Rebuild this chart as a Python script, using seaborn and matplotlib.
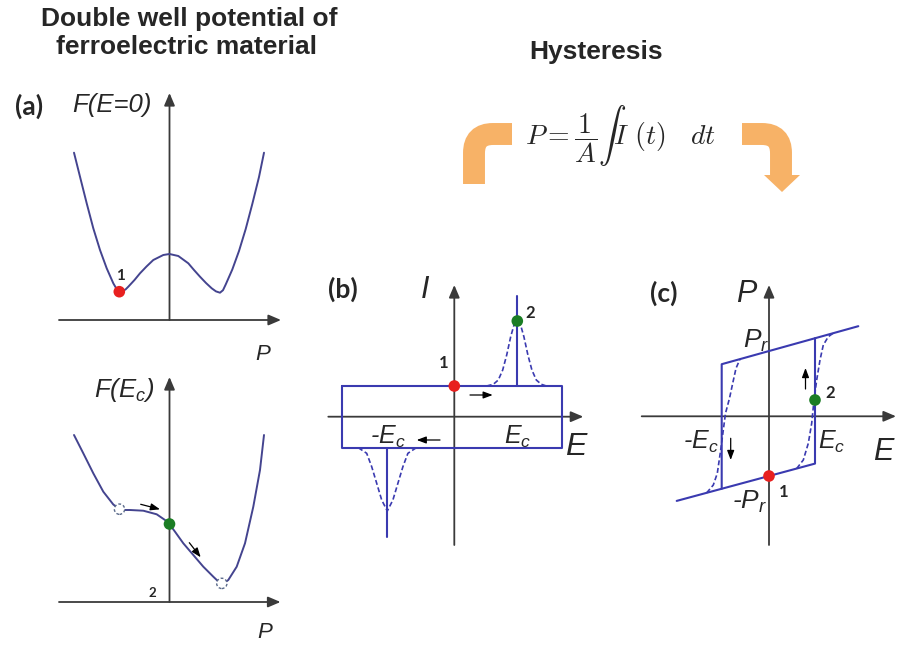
import matplotlib
matplotlib.use("Agg")
import matplotlib.pyplot as plt
from matplotlib.path import Path
from matplotlib.patches import PathPatch, Polygon
import seaborn as sns

# ---------------------------------------------------------------------------
# Data (each panel uses its own axis origin; units are pixels from that origin)
# ---------------------------------------------------------------------------
# (a) Landau free energy at zero field: double well
fe0_p = [-95.5, -89.5, -82.8, -76.2, -69.5, -62.8, -56.2, -53.0, -50.2, -47.5,
         -44.0, -41.2, -35.0, -29.5, -23.0, -16.2, -6.2, 0.0, 8.8, 18.8, 24.5,
         30.5, 36.5, 42.2, 46.5, 50.5, 53.5, 56.2, 62.8, 69.5, 76.2, 82.8,
         89.5, 94.5]
fe0_f = [167.3, 143.3, 116.7, 91.7, 70.0, 51.7, 36.7, 31.2, 28.3, 28.8,
         30.5, 33.3, 40.0, 46.7, 53.5, 60.0, 65.0, 66.0, 64.0, 56.7, 50.0,
         43.3, 37.0, 31.7, 28.6, 27.3, 29.8, 35.5, 50.5, 69.0, 91.0, 116.0,
         143.0, 167.3]
state1_a = (-50.2, 28.3)

# (a) free energy at the coercive field: tilted well
fec_p = [-95.5, -86.2, -76.2, -66.2, -56.2, -50.2, -44.5, -39.5, -26.2, -12.8,
         -4.5, -0.2, 5.5, 13.8, 23.8, 33.8, 43.8, 48.5, 52.2, 55.5, 58.8, 67.2,
         75.5, 83.8, 90.5, 94.5]
fec_f = [167.0, 148.7, 128.7, 110.3, 97.5, 93.0, 92.0, 92.0, 91.3, 87.7,
         82.0, 78.0, 70.3, 58.7, 47.0, 35.3, 25.3, 20.8, 18.7, 19.6, 22.0,
         35.3, 58.7, 95.3, 132.0, 167.0]
state2_a = (0.0, 78.0)
extrema_p = [-50.0, 52.3]
extrema_f = [92.8, 18.6]

# (b) switching current versus field
loop_i_e = [-112.6, 108.0, 108.0, -112.6, -112.6]
loop_i_i = [30.7, 30.7, -31.0, -31.0, 30.7]
peak_e = [32.4, 39.0, 44.0, 48.4, 52.4, 56.4, 59.7, 63.0, 66.3, 69.6, 73.6,
          77.6, 82.0, 87.0, 92.0]
peak_i = [30.7, 32.4, 36.7, 46.7, 61.7, 80.0, 91.7, 96.0, 91.7, 80.0, 61.7,
          46.7, 36.7, 32.4, 30.7]
trough_e = [-96.0, -87.6, -82.6, -77.6, -72.6, -67.0, -61.4, -56.4, -51.4,
            -46.4, -38.0]
trough_i = [-31.0, -36.6, -50.0, -66.6, -83.3, -94.3, -83.3, -66.6, -50.0,
            -36.6, -31.0]
spike_up_e, spike_up_i = [63.0, 63.0], [30.7, 120.7]
spike_dn_e, spike_dn_i = [-67.0, -67.0], [-31.0, -120.0]
state1_b = (0.0, 30.7)
state2_b = (63.0, 95.7)

# (c) polarization hysteresis
top_e = [89.3, -47.3, -47.3]
top_p = [90.1, 52.1, -72.5]
bot_e = [-92.3, 46.0, 46.0]
bot_p = [-84.6, -47.3, 78.1]
up_dash_e = [27.7, 34.3, 39.3, 42.7, 45.0, 47.7, 51.0, 54.3, 59.3, 64.3]
up_dash_p = [-52.2, -43.7, -27.0, -7.0, 16.3, 36.3, 56.3, 71.3, 79.6, 83.2]
dn_dash_e = [-62.3, -55.7, -51.7, -48.3, -45.7, -43.5, -39.5, -36.3, -33.0, -29.0]
dn_dash_p = [-76.5, -68.7, -57.0, -33.7, -13.7, 3.0, 18.0, 33.0, 48.0, 57.2]
state1_c = (0.0, -59.7)
state2_c = (46.0, 16.3)

# ---------------------------------------------------------------------------
sns.set_theme(style="white")
plt.rcParams["font.family"] = ["Liberation Sans", "DejaVu Sans"]
plt.rcParams["mathtext.fontset"] = "custom"
plt.rcParams["mathtext.it"] = "Liberation Sans:italic"
plt.rcParams["mathtext.rm"] = "Liberation Sans"

W, H = 897, 652
fig = plt.figure(figsize=(W / 100, H / 100), dpi=100)
fig.patch.set_facecolor("white")

AX_COL = "#3a3a3a"
CURVE_A = "#44448f"
BLUE = "#3a3ab0"
RED = "#e8201f"
GREEN = "#1b7d24"
ORANGE = "#f7b267"
BOLD = ["Lato", "DejaVu Sans"]

# full-figure overlay in pixel units
ov = fig.add_axes([0, 0, 1, 1])
ov.set_xlim(0, W)
ov.set_ylim(H, 0)
ov.axis("off")


def panel(ox, oy, left, top, right, bottom):
    """Axes covering a pixel box, with 1 data unit = 1 px, origin at (ox, oy)."""
    ax = fig.add_axes([left / W, 1 - bottom / H, (right - left) / W, (bottom - top) / H])
    ax.set_xlim(left - ox, right - ox)
    ax.set_ylim(oy - bottom, oy - top)
    ax.axis("off")
    return ax


def axis_arrow(ax, x0, y0, x1, y1):
    ax.annotate("", xy=(x1, y1), xytext=(x0, y0),
                arrowprops=dict(arrowstyle="-|>,head_length=0.75,head_width=0.32",
                                color=AX_COL, lw=1.3, shrinkA=0, shrinkB=0,
                                mutation_scale=10))


def small_arrow(ax, x0, y0, x1, y1):
    ax.annotate("", xy=(x1, y1), xytext=(x0, y0),
                arrowprops=dict(arrowstyle="-|>,head_length=0.8,head_width=0.3",
                                color="black", lw=0.9, shrinkA=0, shrinkB=0,
                                mutation_scale=7))


def curve(ax, x, y, color, dashed=False, lw=1.4):
    sns.lineplot(x=x, y=y, ax=ax, color=color, lw=lw, sort=False, estimator=None,
                 linestyle=(0, (3, 1.6)) if dashed else "-", zorder=3)


def dot(ax, pt, color):
    sns.scatterplot(x=[pt[0]], y=[pt[1]], ax=ax, color=color, s=70,
                    edgecolor="none", zorder=6)


# ---- titles ----------------------------------------------------------------
ov.text(189, 19, "Double well potential of", ha="center", va="center",
        fontsize=19, fontweight="bold")
ov.text(186, 47, "ferroelectric material", ha="center", va="center",
        fontsize=19, fontweight="bold")
ov.text(596, 52, "Hysteresis", ha="center", va="center",
        fontsize=19, fontweight="bold")

# ---- integral relation with curved arrows ----------------------------------
ov.text(620, 136, r"$P = \dfrac{1}{A}\int I\ (t)\quad dt$", ha="center",
        va="center", fontsize=20, math_fontfamily="cm")
band = 15.8
left_band = Path([(474, 184), (474, 153), (474, 134), (493, 134), (512, 134)],
                 [Path.MOVETO, Path.LINETO, Path.CURVE3, Path.CURVE3, Path.LINETO])
right_band = Path([(742, 134), (762, 134), (781, 134), (781, 153), (781, 176)],
                  [Path.MOVETO, Path.LINETO, Path.CURVE3, Path.CURVE3, Path.LINETO])
for pth in (left_band, right_band):
    ov.add_patch(PathPatch(pth, fill=False, lw=band, edgecolor=ORANGE,
                           capstyle="butt", joinstyle="miter"))
ov.add_patch(Polygon([(764, 175), (800, 175), (782, 192)], closed=True,
                     facecolor=ORANGE, edgecolor="none"))

# ---- (a) top: F(E=0) -------------------------------------------------------
a1 = panel(169.5, 320, 0, 70, 340, 372)
axis_arrow(a1, -110.5, 0, 111.5, 0)
axis_arrow(a1, 0, 0, 0, 227)
curve(a1, fe0_p, fe0_f, CURVE_A)
dot(a1, state1_a, RED)
a1.text(-49.5, 44, "1", ha="center", va="center", fontsize=11,
        fontweight="bold", family=BOLD)
a1.text(-140.5, 214, "(a)", ha="center", va="center", fontsize=19,
        fontweight="bold", family=BOLD)
a1.text(-57.5, 215, "F(E=0)", ha="center", va="center", fontsize=18.5,
        fontstyle="italic")
a1.text(93.5, -34, "P", ha="center", va="center", fontsize=16, fontstyle="italic")

# ---- (a) bottom: F(Ec) -----------------------------------------------------
a2 = panel(169.5, 602, 0, 360, 340, 652)
axis_arrow(a2, -110.5, 0, 111, 0)
axis_arrow(a2, 0, 0, 0, 225)
curve(a2, fec_p, fec_f, CURVE_A)
sns.scatterplot(x=extrema_p, y=extrema_f, ax=a2, s=55, facecolor="white",
                edgecolor="#5a6a8a", linewidth=1.0, linestyle=(0, (2, 1.5)), zorder=5)
dot(a2, state2_a, GREEN)
small_arrow(a2, -28.8, 97.7, -9.5, 92.7)
small_arrow(a2, 19.8, 59.3, 31.2, 44.7)
a2.text(-17.5, 9, "2", ha="center", va="center", fontsize=9.5,
        fontweight="bold", family=BOLD)
a2.text(-45, 212, r"F($E_c$)", ha="center", va="center", fontsize=18.5,
        fontstyle="italic")
a2.text(95.5, -31, "P", ha="center", va="center", fontsize=16, fontstyle="italic")

# ---- (b) current -----------------------------------------------------------
b = panel(454.3, 416.7, 310, 262, 600, 560)
axis_arrow(b, -126, 0, 129, 0)
axis_arrow(b, 0, -128.3, 0, 131.7)
curve(b, loop_i_e, loop_i_i, BLUE, lw=1.5)
curve(b, spike_up_e, spike_up_i, BLUE, lw=1.5)
curve(b, spike_dn_e, spike_dn_i, BLUE, lw=1.5)
curve(b, peak_e, peak_i, BLUE, dashed=True, lw=1.2)
curve(b, trough_e, trough_i, BLUE, dashed=True, lw=1.2)
dot(b, state1_b, RED)
dot(b, state2_b, GREEN)
small_arrow(b, 15.7, 21.7, 38.4, 21.7)
small_arrow(b, -14.3, -23.3, -37.6, -23.3)
b.text(-111, 127, "(b)", ha="center", va="center", fontsize=19,
       fontweight="bold", family=BOLD)
b.text(-29.3, 127, "I", ha="center", va="center", fontsize=22, fontstyle="italic")
b.text(-11, 53.4, "1", ha="center", va="center", fontsize=12,
       fontweight="bold", family=BOLD)
b.text(75.7, 103.4, "2", ha="center", va="center", fontsize=12,
       fontweight="bold", family=BOLD)
b.text(-66.3, -20.3, r"-$E_c$", ha="center", va="center", fontsize=18,
       fontstyle="italic")
b.text(63.7, -20.3, r"$E_c$", ha="center", va="center", fontsize=18)
b.text(121, -30.3, "E", ha="center", va="center", fontsize=23, fontstyle="italic")

# ---- (c) polarization ------------------------------------------------------
c = panel(769, 416.3, 620, 262, 897, 560)
axis_arrow(c, -127.3, 0, 127, 0)
axis_arrow(c, 0, -128.7, 0, 131.3)
curve(c, top_e, top_p, BLUE, lw=1.5)
curve(c, bot_e, bot_p, BLUE, lw=1.5)
curve(c, up_dash_e, up_dash_p, BLUE, dashed=True, lw=1.2)
curve(c, dn_dash_e, dn_dash_p, BLUE, dashed=True, lw=1.2)
dot(c, state1_c, RED)
dot(c, state2_c, GREEN)
small_arrow(c, 36.5, 27.3, 36.5, 48.3)
small_arrow(c, -38.3, -22, -38.3, -43.7)
c.text(-105.7, 123, "(c)", ha="center", va="center", fontsize=19,
       fontweight="bold", family=BOLD)
c.text(-23.2, 122.3, "P", ha="center", va="center", fontsize=22, fontstyle="italic")
c.text(-13, 75, r"$P_r$", ha="center", va="center", fontsize=19)
c.text(-19, -86, r"-$P_r$", ha="center", va="center", fontsize=19, fontstyle="italic")
c.text(-68.2, -25.7, r"-$E_c$", ha="center", va="center", fontsize=18,
       fontstyle="italic")
c.text(63, -25.7, r"$E_c$", ha="center", va="center", fontsize=18)
c.text(104, -35.4, "E", ha="left", va="center", fontsize=22, fontstyle="italic")
c.text(14.3, -76, "1", ha="center", va="center", fontsize=12,
       fontweight="bold", family=BOLD)
c.text(61, 23, "2", ha="center", va="center", fontsize=12,
       fontweight="bold", family=BOLD)

fig.savefig("out.png", dpi=100, facecolor="white")
